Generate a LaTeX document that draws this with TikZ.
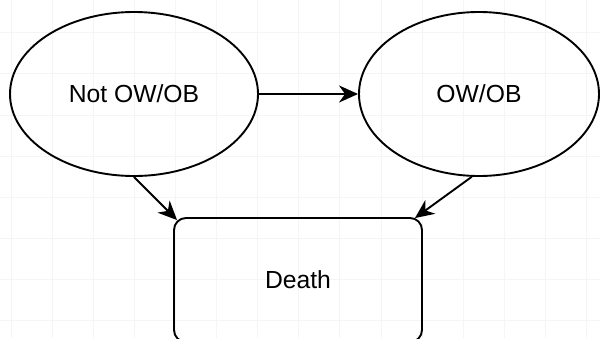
\documentclass[tikz,border=0pt]{standalone}
\usepackage{fontspec}
\setmainfont{Liberation Sans}
\usetikzlibrary{shapes.geometric,arrows.meta}
\begin{document}
\begin{tikzpicture}[x=1pt,y=-1pt,
  gridline/.style={draw=black!4,line width=0.6pt},
  stateell/.style={ellipse,draw,line width=1.9pt,inner sep=0pt,
    font=\fontsize{24.7}{30}\selectfont},
  deathbox/.style={rectangle,draw,line width=1.9pt,rounded corners=12pt,inner sep=0pt,
    font=\fontsize{24.7}{30}\selectfont},
  conn/.style={line width=1.9pt,-{Stealth[length=19pt,width=17pt,inset=6pt]}}]
\useasboundingbox (0,0) rectangle (600,338);
\fill[white] (0,0) rectangle (600,338);
\foreach \i in {0,...,14} \draw[gridline] (10.9+41.1*\i,0) -- (10.9+41.1*\i,338);
\foreach \j in {0,...,8} \draw[gridline] (0,-8.5+41.1*\j) -- (600,-8.5+41.1*\j);
\node[stateell,minimum width=248pt,minimum height=164pt] (n1) at (134,94) {Not OW/OB};
\node[stateell,minimum width=240pt,minimum height=164pt] (n2) at (479,94) {OW/OB};
\node[deathbox,minimum width=248pt,minimum height=124pt] (d) at (298,280) {Death};
\draw[conn] (n1) -- (n2);
\draw[conn] (n1.south) -- ([xshift=4pt,yshift=-3pt]d.north west);
\draw[conn] (n2.265) -- ([xshift=-8pt,yshift=-1pt]d.north east);
\end{tikzpicture}
\end{document}
